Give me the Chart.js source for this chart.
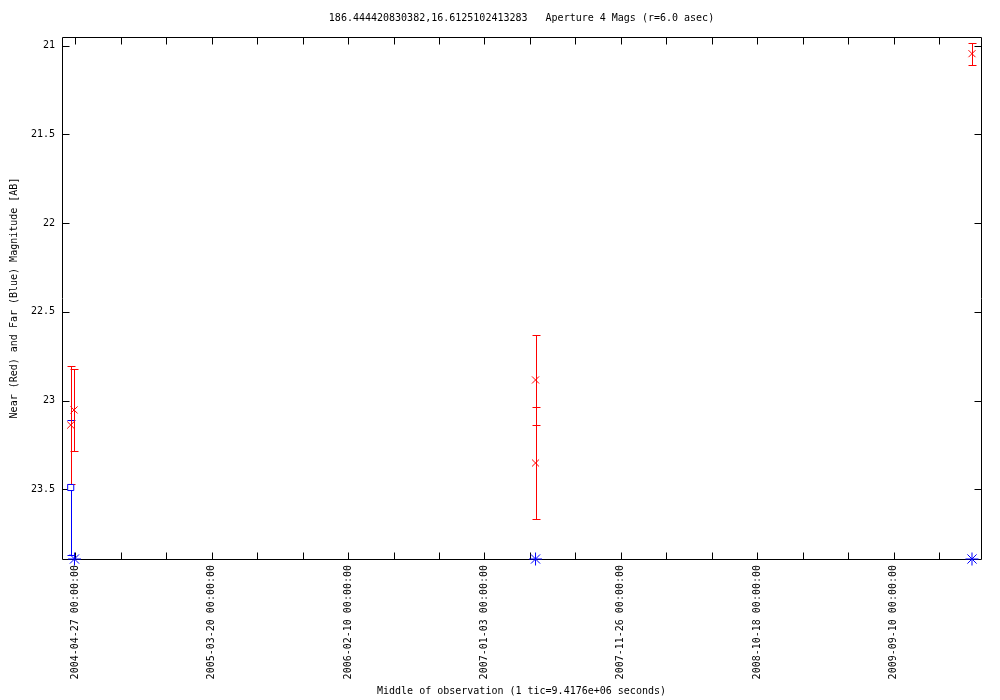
<!DOCTYPE html>
<html><head><meta charset="utf-8">
<script src="https://cdn.jsdelivr.net/npm/chart.js@4.4.0/dist/chart.umd.min.js"></script>
<style>html,body{margin:0;padding:0;background:#fff}</style>
</head><body>
<canvas id="c" width="1000" height="700"></canvas>
<script>
const titleText = '186.444420830382,16.6125102413283   Aperture 4 Mags (r=6.0 asec)';
const xTitle = 'Middle of observation (1 tic=9.4176e+06 seconds)';
const yTitle = 'Near (Red) and Far (Blue) Magnitude [AB]';
// x values: days after 2004-04-27 00:00:00
const xTickDays = [0, 327, 654, 981, 1308, 1635, 1962];
const xTickLabels = ['2004-04-27 00:00:00','2005-03-20 00:00:00','2006-02-10 00:00:00','2007-01-03 00:00:00','2007-11-26 00:00:00','2008-10-18 00:00:00','2009-09-10 00:00:00'];
const xMinorStep = 109;
const xRange = [-31.9, 2171.6];
const yTickValues = [21, 21.5, 22, 22.5, 23, 23.5];
const yTickLabels = ['21','21.5','22','22.5','23','23.5'];
const yRange = [20.951, 23.893];
// Near UV (red)
const nearDays = [-11, -3, 1103.5, 1103.5, 2150];
const nearMag  = [23.138, 23.053, 22.884, 23.352, 21.045];
const nearErr  = [0.333, 0.23, 0.254, 0.313, 0.061];
// Far UV (blue)
const farDays = [-11];
const farMag  = [23.49];
const farErr  = [0.38];
// Far UV limits (blue asterisks at axis floor)
const farLimitDays = [-2, 1103.5, 2150];
const farLimitMag  = [23.893, 23.893, 23.893];

const FONT = {family: '"DejaVu Sans Mono", monospace', size: 10, weight: 'normal'};
const RED = '#ff0000', BLUE = '#0000ff';

function pts(xs, ys) { return xs.map((x, i) => ({x: x, y: ys[i]})); }

const framePlugin = {
  id: 'frameErr',
  beforeDatasetsDraw(chart) {
    const ctx = chart.ctx, a = chart.chartArea;
    const sx = chart.scales.x, sy = chart.scales.y;
    const L = Math.round(a.left) + 0.5, R = Math.round(a.right) + 0.5;
    const T = Math.round(a.top) + 0.5, B = Math.round(a.bottom) + 0.5;
    ctx.save();
    ctx.strokeStyle = '#000'; ctx.lineWidth = 1;
    ctx.beginPath();
    ctx.rect(L, T, R - L, B - T);
    sy.ticks.forEach(t => {
      const p = Math.round(sy.getPixelForValue(t.value)) + 0.5;
      ctx.moveTo(L, p); ctx.lineTo(L + 7, p);
      ctx.moveTo(R, p); ctx.lineTo(R - 7, p);
    });
    sx.ticks.forEach(t => {
      const p = Math.round(sx.getPixelForValue(t.value)) + 0.5;
      ctx.moveTo(p, B); ctx.lineTo(p, B - 7);
      ctx.moveTo(p, T); ctx.lineTo(p, T + 7);
    });
    ctx.stroke();
    function errs(xs, ys, es, color) {
      ctx.strokeStyle = color;
      ctx.beginPath();
      xs.forEach((x, i) => {
        const px = Math.round(sx.getPixelForValue(x)) + 0.5;
        const y1 = Math.round(sy.getPixelForValue(ys[i] - es[i])) + 0.5;
        const y2 = Math.round(sy.getPixelForValue(ys[i] + es[i])) + 0.5;
        ctx.moveTo(px, y1); ctx.lineTo(px, y2);
        ctx.moveTo(px - 4, y1); ctx.lineTo(px + 4, y1);
        ctx.moveTo(px - 4, y2); ctx.lineTo(px + 4, y2);
      });
      ctx.stroke();
    }
    errs(farDays, farMag, farErr, BLUE);
    errs(nearDays, nearMag, nearErr, RED);
    ctx.restore();
  }
};

new Chart(document.getElementById('c'), {
  type: 'scatter',
  data: {
    datasets: [
      {label: 'Far', data: pts(farDays, farMag), pointStyle: 'rect', pointRadius: 4.3,
       borderColor: BLUE, backgroundColor: '#fff', borderWidth: 1, clip: false},
      {label: 'Far limit', data: pts(farLimitDays, farLimitMag), pointStyle: 'star', pointRadius: 6.5,
       borderColor: BLUE, backgroundColor: BLUE, borderWidth: 1, clip: false},
      {label: 'Near', data: pts(nearDays, nearMag), pointStyle: 'crossRot', pointRadius: 5,
       borderColor: RED, backgroundColor: RED, borderWidth: 1, clip: false}
    ]
  },
  options: {
    responsive: false, animation: false, devicePixelRatio: 1,
    layout: {padding: {left: 0, right: 19, top: 0, bottom: 0}},
    plugins: {
      legend: {display: false}, tooltip: {enabled: false},
      title: {display: true, text: titleText, fullSize: false, color: '#000', font: FONT,
              padding: {top: 12, bottom: 13}}
    },
    scales: {
      x: {
        type: 'linear', position: 'bottom', min: xRange[0], max: xRange[1],
        grid: {display: false, drawTicks: false}, border: {display: false},
        ticks: {autoSkip: false, minRotation: 90, maxRotation: 90, padding: 6, color: '#000', font: FONT,
          callback: (v) => { const i = xTickDays.indexOf(v); return i >= 0 ? xTickLabels[i] : ''; }},
        title: {display: true, text: xTitle, color: '#000', font: FONT, padding: {top: 0, bottom: 3}},
        afterBuildTicks: (s) => {
          const t = [];
          for (let k = Math.ceil(xRange[0] / xMinorStep); k * xMinorStep <= xRange[1]; k++) t.push({value: k * xMinorStep});
          s.ticks = t;
        },
        afterFit: (s) => { s.height = 141; }
      },
      y: {
        type: 'linear', position: 'left', reverse: true, min: yRange[0], max: yRange[1],
        grid: {display: false, drawTicks: false}, border: {display: false},
        ticks: {padding: 7, color: '#000', font: FONT,
          callback: (v) => { const i = yTickValues.indexOf(v); return i >= 0 ? yTickLabels[i] : ''; }},
        title: {display: true, text: yTitle, color: '#000', font: FONT, padding: {top: 8, bottom: 0}},
        afterBuildTicks: (s) => { s.ticks = yTickValues.map(v => ({value: v})); },
        afterFit: (s) => { s.width = 62; }
      }
    }
  },
  plugins: [framePlugin]
});
</script>
</body></html>
